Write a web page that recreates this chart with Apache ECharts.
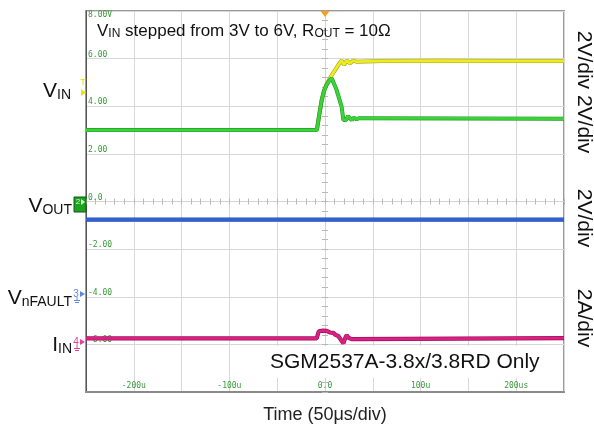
<!DOCTYPE html>
<html>
<head>
<meta charset="utf-8">
<script src="https://cdn.jsdelivr.net/npm/echarts@6/dist/echarts.min.js"></script>
<style>
html,body{margin:0;padding:0;background:#fff;}
#chart{width:594px;height:435px;}
</style>
</head>
<body>
<div id="chart"></div>
<script>
// ---- tick labels ----
const xTickValues = [-200, -100, 0, 100, 200];
const xTickLabels = ['-200u', '-100u', '0.0', '100u', '200us'];
const yTickValues = [6, 4, 2, 0, -2, -4, -6];
const yTickLabels = ['6.00', '4.00', '2.00', '0.0', '-2.00', '-4.00', '-6.00'];
const yTopValues = [8];
const yTopLabels = ['8.00V'];
const triggerTime = [0];

// ---- traces (time in µs, screen value in grid units of 2 per div) ----
const tVin = [-250, -8.5, -6, -3.5, -1, 1.7, 4.5, 7, 10.5, 13.9, 17.4, 19.9, 22.7, 26, 29.5, 33, 60, 120, 180, 250];
const vVin = [3.0, 3.0, 3.65, 4.25, 4.65, 4.92, 5.12, 5.3, 5.52, 5.73, 5.92, 5.74, 5.92, 5.8, 5.92, 5.87, 5.9, 5.91, 5.9, 5.9];

const tCh2 = [-250, -8.5, -6, -3.5, -1, 1.7, 4.5, 7, 9, 12, 15, 17.4, 19.2, 20.5, 22, 24, 26, 28, 30, 33, 36, 250];
const vCh2 = [3.0, 3.0, 3.65, 4.25, 4.65, 4.9, 5.08, 5.17, 5.12, 4.7, 4.3, 3.98, 3.42, 3.35, 3.42, 3.58, 3.5, 3.42, 3.52, 3.46, 3.5, 3.48];

const tOut = [-250, 250];
const vOut = [-0.76, -0.76];

const tIin = [-250, -8.7, -6.5, -5.2, -2, 1.7, 5, 8.7, 11, 13.9, 16.5, 19.2, 21, 22.7, 24.5, 26, 28, 30, 250];
const vIin = [-5.75, -5.75, -5.45, -5.37, -5.42, -5.43, -5.5, -5.52, -5.6, -5.65, -5.8, -5.96, -5.75, -5.61, -5.72, -5.7, -5.78, -5.74, -5.74];

function zip(t, v) { return t.map((x, i) => [x, v[i]]); }
function lookup(vals, labels, v) { const i = vals.indexOf(v); return i >= 0 ? labels[i] : ''; }

const FONT = 'Liberation Sans, Arial, sans-serif';
const MONO = 'DejaVu Sans Mono, monospace';
const labelGreen = '#3a983a';

function trace(name, data, outer, inner, wOuter, wInner, extra) {
  return [
    { type: 'line', name: name + '_edge', data: data, showSymbol: false, silent: true,
      lineStyle: { color: outer, width: wOuter }, animation: false },
    Object.assign({ type: 'line', name: name, data: data, showSymbol: false, silent: true,
      lineStyle: { color: inner, width: wInner }, animation: false }, extra || {})
  ];
}

const crossX = (inside) => ({
  type: 'value', min: -250, max: 250, interval: 50, position: 'bottom',
  axisLine: { show: true, onZero: true, onZeroAxisIndex: 0, lineStyle: { color: '#d2d2d2', width: 1 } },
  axisTick: { show: true, inside: inside, length: 3, lineStyle: { color: '#b8b8b8' } },
  minorTick: { show: true, splitNumber: 5, length: 3, lineStyle: { color: '#b8b8b8' } },
  axisLabel: { show: false }, splitLine: { show: false }
});
const crossY = (inside) => ({
  type: 'value', min: -8, max: 8, interval: 2, position: 'left',
  axisLine: { show: true, onZero: true, onZeroAxisIndex: 0, lineStyle: { color: '#d2d2d2', width: 1 } },
  axisTick: { show: true, inside: inside, length: 3, lineStyle: { color: '#b8b8b8' } },
  minorTick: { show: true, splitNumber: 5, length: 3, lineStyle: { color: '#b8b8b8' } },
  axisLabel: { show: false }, splitLine: { show: false }
});

function richLabel(x, y, parts, base, sub, align) {
  let text = parts.map(p => (p[1] ? '{s|' : '{b|') + p[0] + '}').join('');
  return {
    type: 'text', z: 100,
    style: {
      x: x, y: y, text: text, align: align, verticalAlign: 'middle',
      rich: {
        b: { fontSize: base, fontFamily: FONT, fill: '#111', lineHeight: Math.round(base * 1.15), verticalAlign: 'bottom' },
        s: { fontSize: sub, fontFamily: FONT, fill: '#111', lineHeight: Math.round(sub * 1.22), verticalAlign: 'bottom' }
      }
    }
  };
}

const chart = echarts.init(document.getElementById('chart'), null, { renderer: 'canvas' });

const series = [].concat(
  trace('VIN', zip(tVin, vVin), '#a6a620', '#ecec1e', 4, 2.8),
  trace('CH2', zip(tCh2, vCh2), '#259a25', '#3ad43a', 4, 2.8),
  trace('VOUT', zip(tOut, vOut), '#234aa8', '#3060d6', 4.4, 3, {
    markPoint: {
      symbol: 'triangle', symbolRotate: 180, symbolSize: [9, 6], symbolOffset: [0, 3],
      itemStyle: { color: '#f5a020' }, label: { show: false },
      data: triggerTime.map(t => ({ coord: [t, 8] }))
    }
  }),
  trace('IIN', zip(tIin, vIin), '#9e1058', '#dc1f84', 4.2, 2.8)
);

const option = {
  animation: false,
  backgroundColor: '#fff',
  grid: { left: 86, top: 11, width: 478, height: 381, show: true, borderColor: '#9a9a9a', borderWidth: 2 },
  xAxis: [
    {
      type: 'value', min: -250, max: 250, interval: 50, position: 'bottom',
      axisLine: { show: true, onZero: false, lineStyle: { color: '#8a8a8a', width: 2 } },
      axisTick: { show: false },
      splitLine: { show: true, lineStyle: { color: '#d8d8d8', width: 1 } },
      axisLabel: { inside: true, margin: 2, fontSize: 8, fontFamily: MONO, color: labelGreen,
        formatter: v => lookup(xTickValues, xTickLabels, v) }
    },
    crossX(false), crossX(true)
  ],
  yAxis: [
    {
      type: 'value', min: -8, max: 8, interval: 2, position: 'left',
      axisLine: { show: true, onZero: false, lineStyle: { color: '#555', width: 1 } },
      axisTick: { show: false },
      splitLine: { show: true, lineStyle: { color: '#d8d8d8', width: 1 } },
      axisLabel: { inside: true, margin: 2, fontSize: 8, fontFamily: MONO, color: labelGreen, verticalAlign: 'bottom',
        formatter: v => lookup(yTickValues, yTickLabels, v) }
    },
    {
      type: 'value', min: -8, max: 8, interval: 2, position: 'left',
      axisLine: { show: false, onZero: false }, axisTick: { show: false }, splitLine: { show: false },
      axisLabel: { inside: true, margin: 2, fontSize: 8, fontFamily: MONO, color: labelGreen, verticalAlign: 'top',
        formatter: v => lookup(yTopValues, yTopLabels, v) }
    },
    crossY(false), crossY(true)
  ],
  series: series,
  graphic: [
    richLabel(97, 30, [['V'], ['IN', 1], [' stepped from 3V to 6V, R'], ['OUT', 1], [' = 10Ω']], 17, 12, 'left'),
    richLabel(71, 90, [['V'], ['IN', 1]], 21, 14, 'right'),
    richLabel(72, 205, [['V'], ['OUT', 1]], 21, 14, 'right'),
    richLabel(72, 297, [['V'], ['nFAULT', 1]], 21, 14, 'right'),
    richLabel(72, 344, [['I'], ['IN', 1]], 21, 14, 'right'),
    { type: 'text', x: 584, y: 92, rotation: -Math.PI / 2, z: 100,
      style: { text: '2V/div 2V/div', fontSize: 21, fontFamily: FONT, fill: '#111', align: 'center', verticalAlign: 'middle' } },
    { type: 'text', x: 584, y: 218, rotation: -Math.PI / 2, z: 100,
      style: { text: '2V/div', fontSize: 21, fontFamily: FONT, fill: '#111', align: 'center', verticalAlign: 'middle' } },
    { type: 'text', x: 584, y: 318, rotation: -Math.PI / 2, z: 100,
      style: { text: '2A/div', fontSize: 21, fontFamily: FONT, fill: '#111', align: 'center', verticalAlign: 'middle' } },
    { type: 'text', z: 100,
      style: { x: 325, y: 415, text: 'Time (50μs/div)', fontSize: 18, fontFamily: FONT, fill: '#222', align: 'center', verticalAlign: 'middle' } },
    { type: 'text', z: 100,
      style: { x: 268, y: 362, text: 'SGM2537A-3.8x/3.8RD Only', fontSize: 21, fontFamily: FONT, fill: '#111',
        align: 'left', verticalAlign: 'middle', lineHeight: 24, backgroundColor: '#fff', padding: [4, 22, 4, 2] } },
    // channel markers
    { type: 'text', z: 100, style: { x: 83, y: 83, text: 'T', fontSize: 9, fontFamily: FONT, fill: '#e8e000', align: 'center', verticalAlign: 'middle' } },
    { type: 'polygon', z: 100, shape: { points: [[81, 89], [86, 92.5], [81, 96]] }, style: { fill: '#f0e400' } },
    { type: 'rect', z: 100, shape: { x: 74, y: 197, width: 12, height: 15 }, style: { fill: '#1fa01f', stroke: '#0c5c0c', lineWidth: 1 } },
    { type: 'text', z: 101, style: { x: 78, y: 202, text: '2', fontSize: 8, fontFamily: FONT, fill: '#c8ffc8', align: 'center', verticalAlign: 'middle' } },
    { type: 'polygon', z: 101, shape: { points: [[81, 199], [85, 202], [81, 205]] }, style: { fill: '#c8ffc8' } },
    { type: 'text', z: 100, style: { x: 76, y: 294, text: '3', fontSize: 10, fontFamily: FONT, fill: '#5a8ae6', align: 'center', verticalAlign: 'middle' } },
    { type: 'polygon', z: 100, shape: { points: [[80, 291], [85, 294], [80, 297]] }, style: { fill: '#5a8ae6' } },
    { type: 'polyline', z: 100, shape: { points: [[77, 297], [77, 300]] }, style: { stroke: '#5a8ae6', lineWidth: 1 } },
    { type: 'polyline', z: 100, shape: { points: [[74, 300.5], [80, 300.5]] }, style: { stroke: '#5a8ae6', lineWidth: 1 } },
    { type: 'polyline', z: 100, shape: { points: [[75, 302.5], [79, 302.5]] }, style: { stroke: '#5a8ae6', lineWidth: 1 } },
    { type: 'text', z: 100, style: { x: 76, y: 342, text: '4', fontSize: 10, fontFamily: FONT, fill: '#e0409a', align: 'center', verticalAlign: 'middle' } },
    { type: 'polygon', z: 100, shape: { points: [[80, 339], [85, 342], [80, 345]] }, style: { fill: '#e0409a' } },
    { type: 'polyline', z: 100, shape: { points: [[77, 345], [77, 348]] }, style: { stroke: '#e0409a', lineWidth: 1 } },
    { type: 'polyline', z: 100, shape: { points: [[74, 348.5], [80, 348.5]] }, style: { stroke: '#e0409a', lineWidth: 1 } },
    { type: 'polyline', z: 100, shape: { points: [[75, 350.5], [79, 350.5]] }, style: { stroke: '#e0409a', lineWidth: 1 } }
  ]
};
chart.setOption(option);
</script>
</body>
</html>
